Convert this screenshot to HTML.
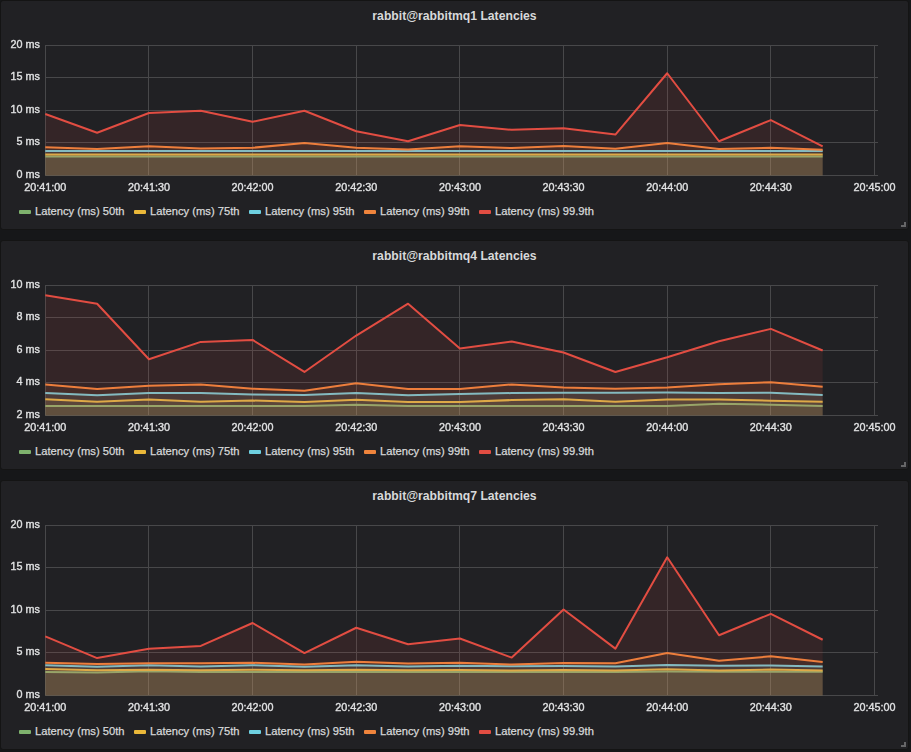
<!DOCTYPE html>
<html><head><meta charset="utf-8"><style>
html,body{margin:0;padding:0;background:#161719;width:911px;height:752px;overflow:hidden}
.p{position:absolute;left:0;width:909px;background:#212124;border:1px solid #141414;box-sizing:border-box;border-radius:3px}
svg{position:absolute;left:0;top:0}
text{font-family:"Liberation Sans",sans-serif;fill:#d8d9da}
.lg{font-size:11.2px;stroke:#d8d9da;stroke-width:0.25px}
.ax{font-size:10.8px;fill:#e8e9ea;stroke:#d8d9da;stroke-width:0.4px}
</style></head><body>
<div class="p" style="top:0px;height:230px"></div>
<div class="p" style="top:240px;height:230px"></div>
<div class="p" style="top:480px;height:270px"></div>
<svg width="911" height="752" viewBox="0 0 911 752">
<text x="454.5" y="19.5" text-anchor="middle" font-size="12.2" font-weight="bold">rabbit@rabbitmq1 Latencies</text>
<path d="M45 175.5H878M45 142.5H878M45 110.5H878M45 77.5H878M45 45.5H878M45.5 45.5V175.5M148.5 45.5V175.5M252.5 45.5V175.5M356.5 45.5V175.5M459.5 45.5V175.5M563.5 45.5V175.5M667.5 45.5V175.5M770.5 45.5V175.5M874.5 45.5V175.5" stroke="#48484a" stroke-width="1" fill="none"/>
<polygon points="45.30,175.5 45.30,156.52 97.12,156.52 148.95,156.52 200.78,156.52 252.60,156.52 304.43,156.52 356.25,156.52 408.08,156.52 459.90,156.52 511.73,156.52 563.55,156.52 615.38,156.52 667.20,156.52 719.02,156.52 770.85,156.52 822.67,156.52 822.67,175.5" fill="#7eb26d" fill-opacity="0.1"/>
<polyline points="45.30,156.52 97.12,156.52 148.95,156.52 200.78,156.52 252.60,156.52 304.43,156.52 356.25,156.52 408.08,156.52 459.90,156.52 511.73,156.52 563.55,156.52 615.38,156.52 667.20,156.52 719.02,156.52 770.85,156.52 822.67,156.52" fill="none" stroke="#7eb26d" stroke-width="2" stroke-linejoin="round"/>
<polygon points="45.30,175.5 45.30,154.38 97.12,154.38 148.95,154.38 200.78,154.38 252.60,154.38 304.43,154.38 356.25,154.38 408.08,154.38 459.90,154.38 511.73,154.38 563.55,154.38 615.38,154.38 667.20,154.38 719.02,154.38 770.85,154.38 822.67,154.38 822.67,175.5" fill="#eab839" fill-opacity="0.1"/>
<polyline points="45.30,154.38 97.12,154.38 148.95,154.38 200.78,154.38 252.60,154.38 304.43,154.38 356.25,154.38 408.08,154.38 459.90,154.38 511.73,154.38 563.55,154.38 615.38,154.38 667.20,154.38 719.02,154.38 770.85,154.38 822.67,154.38" fill="none" stroke="#eab839" stroke-width="2" stroke-linejoin="round"/>
<polygon points="45.30,175.5 45.30,150.93 97.12,150.93 148.95,150.93 200.78,150.93 252.60,150.93 304.43,150.93 356.25,150.93 408.08,150.93 459.90,150.93 511.73,150.93 563.55,150.93 615.38,150.93 667.20,150.93 719.02,150.93 770.85,150.93 822.67,150.93 822.67,175.5" fill="#6ed0e0" fill-opacity="0.1"/>
<polyline points="45.30,150.93 97.12,150.93 148.95,150.93 200.78,150.93 252.60,150.93 304.43,150.93 356.25,150.93 408.08,150.93 459.90,150.93 511.73,150.93 563.55,150.93 615.38,150.93 667.20,150.93 719.02,150.93 770.85,150.93 822.67,150.93" fill="none" stroke="#6ed0e0" stroke-width="2" stroke-linejoin="round"/>
<polygon points="45.30,175.5 45.30,147.35 97.12,149.04 148.95,146.25 200.78,148.40 252.60,147.75 304.43,143.00 356.25,147.75 408.08,149.50 459.90,146.25 511.73,148.07 563.55,145.93 615.38,148.85 667.20,143.00 719.02,149.04 770.85,147.75 822.67,149.69 822.67,175.5" fill="#ef843c" fill-opacity="0.1"/>
<polyline points="45.30,147.35 97.12,149.04 148.95,146.25 200.78,148.40 252.60,147.75 304.43,143.00 356.25,147.75 408.08,149.50 459.90,146.25 511.73,148.07 563.55,145.93 615.38,148.85 667.20,143.00 719.02,149.04 770.85,147.75 822.67,149.69" fill="none" stroke="#ef843c" stroke-width="2" stroke-linejoin="round"/>
<polygon points="45.30,175.5 45.30,114.01 97.12,132.80 148.95,113.03 200.78,110.76 252.60,121.75 304.43,110.76 356.25,131.30 408.08,141.25 459.90,124.93 511.73,129.81 563.55,128.25 615.38,134.55 667.20,73.26 719.02,141.25 770.85,120.06 822.67,146.44 822.67,175.5" fill="#e24d42" fill-opacity="0.1"/>
<polyline points="45.30,114.01 97.12,132.80 148.95,113.03 200.78,110.76 252.60,121.75 304.43,110.76 356.25,131.30 408.08,141.25 459.90,124.93 511.73,129.81 563.55,128.25 615.38,134.55 667.20,73.26 719.02,141.25 770.85,120.06 822.67,146.44" fill="none" stroke="#e24d42" stroke-width="2" stroke-linejoin="round"/>
<rect x="19" y="210.0" width="12" height="4" rx="1" fill="#7eb26d"/>
<text x="35" y="215.0" class="lg">Latency (ms) 50th</text>
<rect x="134" y="210.0" width="12" height="4" rx="1" fill="#eab839"/>
<text x="150" y="215.0" class="lg">Latency (ms) 75th</text>
<rect x="249" y="210.0" width="12" height="4" rx="1" fill="#6ed0e0"/>
<text x="265" y="215.0" class="lg">Latency (ms) 95th</text>
<rect x="364" y="210.0" width="12" height="4" rx="1" fill="#ef843c"/>
<text x="380" y="215.0" class="lg">Latency (ms) 99th</text>
<rect x="479" y="210.0" width="12" height="4" rx="1" fill="#e24d42"/>
<text x="495" y="215.0" class="lg">Latency (ms) 99.9th</text>
<path d="M901 225H904V222H906V227H901Z" fill="#666668"/>
<text x="454.5" y="259.5" text-anchor="middle" font-size="12.2" font-weight="bold">rabbit@rabbitmq4 Latencies</text>
<path d="M45 415.5H878M45 382.5H878M45 350.5H878M45 317.5H878M45 285.5H878M45.5 285.5V415.5M148.5 285.5V415.5M252.5 285.5V415.5M356.5 285.5V415.5M459.5 285.5V415.5M563.5 285.5V415.5M667.5 285.5V415.5M770.5 285.5V415.5M874.5 285.5V415.5" stroke="#48484a" stroke-width="1" fill="none"/>
<polygon points="45.30,415.5 45.30,406.07 97.12,406.07 148.95,406.07 200.78,406.07 252.60,406.07 304.43,406.07 356.25,404.77 408.08,406.07 459.90,406.07 511.73,406.07 563.55,406.07 615.38,406.07 667.20,406.07 719.02,403.64 770.85,404.77 822.67,406.07 822.67,415.5" fill="#7eb26d" fill-opacity="0.1"/>
<polyline points="45.30,406.07 97.12,406.07 148.95,406.07 200.78,406.07 252.60,406.07 304.43,406.07 356.25,404.77 408.08,406.07 459.90,406.07 511.73,406.07 563.55,406.07 615.38,406.07 667.20,406.07 719.02,403.64 770.85,404.77 822.67,406.07" fill="none" stroke="#7eb26d" stroke-width="2" stroke-linejoin="round"/>
<polygon points="45.30,415.5 45.30,399.25 97.12,401.69 148.95,399.41 200.78,401.69 252.60,400.55 304.43,402.01 356.25,399.74 408.08,402.01 459.90,402.01 511.73,400.06 563.55,399.25 615.38,401.69 667.20,399.57 719.02,399.57 770.85,400.71 822.67,401.69 822.67,415.5" fill="#eab839" fill-opacity="0.1"/>
<polyline points="45.30,399.25 97.12,401.69 148.95,399.41 200.78,401.69 252.60,400.55 304.43,402.01 356.25,399.74 408.08,402.01 459.90,402.01 511.73,400.06 563.55,399.25 615.38,401.69 667.20,399.57 719.02,399.57 770.85,400.71 822.67,401.69" fill="none" stroke="#eab839" stroke-width="2" stroke-linejoin="round"/>
<polygon points="45.30,415.5 45.30,393.07 97.12,395.19 148.95,392.91 200.78,392.91 252.60,394.54 304.43,395.02 356.25,392.91 408.08,395.19 459.90,394.05 511.73,393.07 563.55,392.75 615.38,392.75 667.20,392.43 719.02,393.07 770.85,392.75 822.67,395.02 822.67,415.5" fill="#6ed0e0" fill-opacity="0.1"/>
<polyline points="45.30,393.07 97.12,395.19 148.95,392.91 200.78,392.91 252.60,394.54 304.43,395.02 356.25,392.91 408.08,395.19 459.90,394.05 511.73,393.07 563.55,392.75 615.38,392.75 667.20,392.43 719.02,393.07 770.85,392.75 822.67,395.02" fill="none" stroke="#6ed0e0" stroke-width="2" stroke-linejoin="round"/>
<polygon points="45.30,415.5 45.30,384.62 97.12,389.01 148.95,385.76 200.78,384.62 252.60,388.69 304.43,390.80 356.25,383.32 408.08,389.01 459.90,389.01 511.73,384.46 563.55,387.39 615.38,388.69 667.20,387.39 719.02,384.30 770.85,382.19 822.67,386.74 822.67,415.5" fill="#ef843c" fill-opacity="0.1"/>
<polyline points="45.30,384.62 97.12,389.01 148.95,385.76 200.78,384.62 252.60,388.69 304.43,390.80 356.25,383.32 408.08,389.01 459.90,389.01 511.73,384.46 563.55,387.39 615.38,388.69 667.20,387.39 719.02,384.30 770.85,382.19 822.67,386.74" fill="none" stroke="#ef843c" stroke-width="2" stroke-linejoin="round"/>
<polygon points="45.30,415.5 45.30,295.25 97.12,303.70 148.95,359.27 200.78,341.89 252.60,339.94 304.43,371.95 356.25,335.55 408.08,303.70 459.90,348.39 511.73,341.56 563.55,352.45 615.38,371.95 667.20,357.32 719.02,341.24 770.85,328.89 822.67,350.50 822.67,415.5" fill="#e24d42" fill-opacity="0.1"/>
<polyline points="45.30,295.25 97.12,303.70 148.95,359.27 200.78,341.89 252.60,339.94 304.43,371.95 356.25,335.55 408.08,303.70 459.90,348.39 511.73,341.56 563.55,352.45 615.38,371.95 667.20,357.32 719.02,341.24 770.85,328.89 822.67,350.50" fill="none" stroke="#e24d42" stroke-width="2" stroke-linejoin="round"/>
<rect x="19" y="450.0" width="12" height="4" rx="1" fill="#7eb26d"/>
<text x="35" y="455.0" class="lg">Latency (ms) 50th</text>
<rect x="134" y="450.0" width="12" height="4" rx="1" fill="#eab839"/>
<text x="150" y="455.0" class="lg">Latency (ms) 75th</text>
<rect x="249" y="450.0" width="12" height="4" rx="1" fill="#6ed0e0"/>
<text x="265" y="455.0" class="lg">Latency (ms) 95th</text>
<rect x="364" y="450.0" width="12" height="4" rx="1" fill="#ef843c"/>
<text x="380" y="455.0" class="lg">Latency (ms) 99th</text>
<rect x="479" y="450.0" width="12" height="4" rx="1" fill="#e24d42"/>
<text x="495" y="455.0" class="lg">Latency (ms) 99.9th</text>
<path d="M901 465H904V462H906V467H901Z" fill="#666668"/>
<text x="454.5" y="499.5" text-anchor="middle" font-size="12.2" font-weight="bold">rabbit@rabbitmq7 Latencies</text>
<path d="M45 695.5H878M45 652.5H878M45 610.5H878M45 567.5H878M45 525.5H878M45.5 525.5V695.5M148.5 525.5V695.5M252.5 525.5V695.5M356.5 525.5V695.5M459.5 525.5V695.5M563.5 525.5V695.5M667.5 525.5V695.5M770.5 525.5V695.5M874.5 525.5V695.5" stroke="#48484a" stroke-width="1" fill="none"/>
<polygon points="45.30,695.5 45.30,672.12 97.12,672.38 148.95,671.36 200.78,672.12 252.60,672.12 304.43,672.12 356.25,672.12 408.08,672.12 459.90,672.12 511.73,672.12 563.55,672.12 615.38,672.12 667.20,671.45 719.02,671.70 770.85,671.70 822.67,671.70 822.67,695.5" fill="#7eb26d" fill-opacity="0.1"/>
<polyline points="45.30,672.12 97.12,672.38 148.95,671.36 200.78,672.12 252.60,672.12 304.43,672.12 356.25,672.12 408.08,672.12 459.90,672.12 511.73,672.12 563.55,672.12 615.38,672.12 667.20,671.45 719.02,671.70 770.85,671.70 822.67,671.70" fill="none" stroke="#7eb26d" stroke-width="2" stroke-linejoin="round"/>
<polygon points="45.30,695.5 45.30,668.89 97.12,670.34 148.95,669.66 200.78,670.34 252.60,669.66 304.43,670.34 356.25,669.66 408.08,670.34 459.90,670.00 511.73,670.60 563.55,670.00 615.38,670.60 667.20,669.32 719.02,670.60 770.85,669.58 822.67,670.60 822.67,695.5" fill="#eab839" fill-opacity="0.1"/>
<polyline points="45.30,668.89 97.12,670.34 148.95,669.66 200.78,670.34 252.60,669.66 304.43,670.34 356.25,669.66 408.08,670.34 459.90,670.00 511.73,670.60 563.55,670.00 615.38,670.60 667.20,669.32 719.02,670.60 770.85,669.58 822.67,670.60" fill="none" stroke="#eab839" stroke-width="2" stroke-linejoin="round"/>
<polygon points="45.30,695.5 45.30,665.24 97.12,666.68 148.95,665.24 200.78,666.43 252.60,665.24 304.43,666.68 356.25,665.24 408.08,666.43 459.90,665.75 511.73,666.26 563.55,666.00 615.38,666.43 667.20,664.90 719.02,665.75 770.85,665.50 822.67,666.43 822.67,695.5" fill="#6ed0e0" fill-opacity="0.1"/>
<polyline points="45.30,665.24 97.12,666.68 148.95,665.24 200.78,666.43 252.60,665.24 304.43,666.68 356.25,665.24 408.08,666.43 459.90,665.75 511.73,666.26 563.55,666.00 615.38,666.43 667.20,664.90 719.02,665.75 770.85,665.50 822.67,666.43" fill="none" stroke="#6ed0e0" stroke-width="2" stroke-linejoin="round"/>
<polygon points="45.30,695.5 45.30,662.77 97.12,664.05 148.95,663.20 200.78,663.37 252.60,662.77 304.43,664.56 356.25,661.75 408.08,663.46 459.90,662.86 511.73,664.56 563.55,663.03 615.38,663.20 667.20,652.91 719.02,660.74 770.85,656.32 822.67,662.10 822.67,695.5" fill="#ef843c" fill-opacity="0.1"/>
<polyline points="45.30,662.77 97.12,664.05 148.95,663.20 200.78,663.37 252.60,662.77 304.43,664.56 356.25,661.75 408.08,663.46 459.90,662.86 511.73,664.56 563.55,663.03 615.38,663.20 667.20,652.91 719.02,660.74 770.85,656.32 822.67,662.10" fill="none" stroke="#ef843c" stroke-width="2" stroke-linejoin="round"/>
<polygon points="45.30,695.5 45.30,636.34 97.12,658.10 148.95,648.75 200.78,645.95 252.60,623.00 304.43,653.09 356.25,627.75 408.08,644.25 459.90,638.55 511.73,657.59 563.55,609.57 615.38,648.66 667.20,557.29 719.02,635.24 770.85,613.82 822.67,639.74 822.67,695.5" fill="#e24d42" fill-opacity="0.1"/>
<polyline points="45.30,636.34 97.12,658.10 148.95,648.75 200.78,645.95 252.60,623.00 304.43,653.09 356.25,627.75 408.08,644.25 459.90,638.55 511.73,657.59 563.55,609.57 615.38,648.66 667.20,557.29 719.02,635.24 770.85,613.82 822.67,639.74" fill="none" stroke="#e24d42" stroke-width="2" stroke-linejoin="round"/>
<rect x="19" y="730.0" width="12" height="4" rx="1" fill="#7eb26d"/>
<text x="35" y="735.0" class="lg">Latency (ms) 50th</text>
<rect x="134" y="730.0" width="12" height="4" rx="1" fill="#eab839"/>
<text x="150" y="735.0" class="lg">Latency (ms) 75th</text>
<rect x="249" y="730.0" width="12" height="4" rx="1" fill="#6ed0e0"/>
<text x="265" y="735.0" class="lg">Latency (ms) 95th</text>
<rect x="364" y="730.0" width="12" height="4" rx="1" fill="#ef843c"/>
<text x="380" y="735.0" class="lg">Latency (ms) 99th</text>
<rect x="479" y="730.0" width="12" height="4" rx="1" fill="#e24d42"/>
<text x="495" y="735.0" class="lg">Latency (ms) 99.9th</text>
<path d="M901 745H904V742H906V747H901Z" fill="#666668"/>
</svg><svg width="911" height="752" viewBox="0 0 911 752" style="will-change:transform">
<text x="40" y="177.5" text-anchor="end" class="ax">0 ms</text>
<text x="40" y="145.0" text-anchor="end" class="ax">5 ms</text>
<text x="40" y="112.5" text-anchor="end" class="ax">10 ms</text>
<text x="40" y="80.0" text-anchor="end" class="ax">15 ms</text>
<text x="40" y="47.5" text-anchor="end" class="ax">20 ms</text>
<text x="45.3" y="190.5" text-anchor="middle" class="ax">20:41:00</text>
<text x="148.95" y="190.5" text-anchor="middle" class="ax">20:41:30</text>
<text x="252.60000000000002" y="190.5" text-anchor="middle" class="ax">20:42:00</text>
<text x="356.25000000000006" y="190.5" text-anchor="middle" class="ax">20:42:30</text>
<text x="459.90000000000003" y="190.5" text-anchor="middle" class="ax">20:43:00</text>
<text x="563.55" y="190.5" text-anchor="middle" class="ax">20:43:30</text>
<text x="667.2" y="190.5" text-anchor="middle" class="ax">20:44:00</text>
<text x="770.85" y="190.5" text-anchor="middle" class="ax">20:44:30</text>
<text x="874.5" y="190.5" text-anchor="middle" class="ax">20:45:00</text>
<text x="40" y="417.5" text-anchor="end" class="ax">2 ms</text>
<text x="40" y="385.0" text-anchor="end" class="ax">4 ms</text>
<text x="40" y="352.5" text-anchor="end" class="ax">6 ms</text>
<text x="40" y="320.0" text-anchor="end" class="ax">8 ms</text>
<text x="40" y="287.5" text-anchor="end" class="ax">10 ms</text>
<text x="45.3" y="430.5" text-anchor="middle" class="ax">20:41:00</text>
<text x="148.95" y="430.5" text-anchor="middle" class="ax">20:41:30</text>
<text x="252.60000000000002" y="430.5" text-anchor="middle" class="ax">20:42:00</text>
<text x="356.25000000000006" y="430.5" text-anchor="middle" class="ax">20:42:30</text>
<text x="459.90000000000003" y="430.5" text-anchor="middle" class="ax">20:43:00</text>
<text x="563.55" y="430.5" text-anchor="middle" class="ax">20:43:30</text>
<text x="667.2" y="430.5" text-anchor="middle" class="ax">20:44:00</text>
<text x="770.85" y="430.5" text-anchor="middle" class="ax">20:44:30</text>
<text x="874.5" y="430.5" text-anchor="middle" class="ax">20:45:00</text>
<text x="40" y="697.5" text-anchor="end" class="ax">0 ms</text>
<text x="40" y="655.0" text-anchor="end" class="ax">5 ms</text>
<text x="40" y="612.5" text-anchor="end" class="ax">10 ms</text>
<text x="40" y="570.0" text-anchor="end" class="ax">15 ms</text>
<text x="40" y="527.5" text-anchor="end" class="ax">20 ms</text>
<text x="45.3" y="710.5" text-anchor="middle" class="ax">20:41:00</text>
<text x="148.95" y="710.5" text-anchor="middle" class="ax">20:41:30</text>
<text x="252.60000000000002" y="710.5" text-anchor="middle" class="ax">20:42:00</text>
<text x="356.25000000000006" y="710.5" text-anchor="middle" class="ax">20:42:30</text>
<text x="459.90000000000003" y="710.5" text-anchor="middle" class="ax">20:43:00</text>
<text x="563.55" y="710.5" text-anchor="middle" class="ax">20:43:30</text>
<text x="667.2" y="710.5" text-anchor="middle" class="ax">20:44:00</text>
<text x="770.85" y="710.5" text-anchor="middle" class="ax">20:44:30</text>
<text x="874.5" y="710.5" text-anchor="middle" class="ax">20:45:00</text>
</svg>
</body></html>
